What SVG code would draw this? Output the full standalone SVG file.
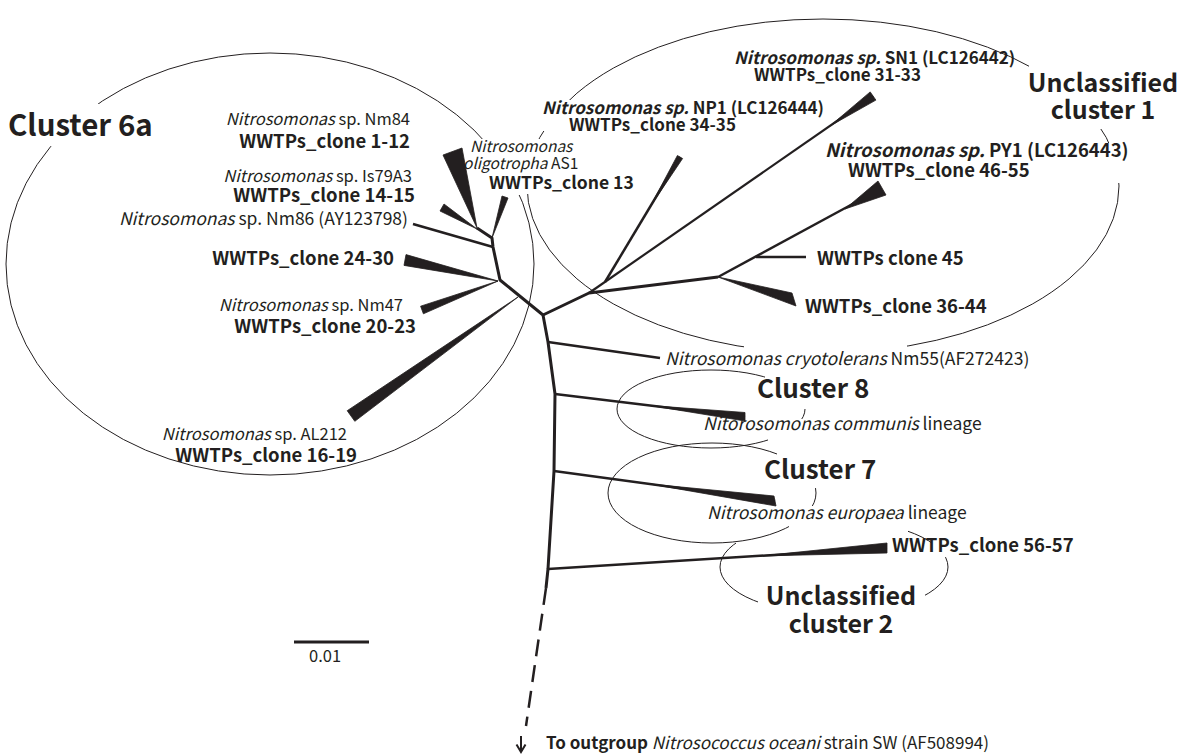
<svg xmlns="http://www.w3.org/2000/svg" width="1179" height="754" viewBox="0 0 1179 754">
  <style>
    .bg { fill: #ffffff; }
    .ring { fill: none; stroke: #231f20; stroke-width: 1; }
    .br { fill: none; stroke: #231f20; stroke-width: 3; stroke-linejoin: round; stroke-linecap: butt; }
    .leaf { fill: none; stroke: #231f20; stroke-width: 2.5; stroke-linecap: butt; }
    .wedge { fill: #231f20; stroke: #231f20; stroke-width: 0.8; stroke-linejoin: round; }
    .dash { fill: none; stroke: #231f20; stroke-width: 2.5; stroke-dasharray: 17 9; }
    .t { font-family: "Noto Sans CJK JP", "Noto Sans", sans-serif; fill: #231f20; }
    .s16 { font-size: 16.5px; }
    .s17 { font-size: 17px; }
    .s175 { font-size: 17.5px; }
    .s187 { font-size: 18.5px; }
    .b { font-weight: bold; }
    .i { font-style: italic; }
    .big { font-family: "Noto Sans CJK JP", "Noto Sans", sans-serif; font-weight: bold; font-size: 26px; fill: #231f20; }
    .unc { font-size: 25px; }
  </style>
  <defs>
    <!-- gaps in the cluster outlines where labels sit -->
    <mask id="gap6a" maskUnits="userSpaceOnUse" x="0" y="0" width="1179" height="754">
      <rect width="1179" height="754" fill="#fff"/>
      <rect x="40" y="104" width="64" height="42" fill="#000"/>
      <rect x="478" y="139" width="55" height="56" fill="#000"/>
    </mask>
    <mask id="gapU1" maskUnits="userSpaceOnUse" x="0" y="0" width="1179" height="754">
      <rect width="1179" height="754" fill="#fff"/>
      <rect x="515" y="100" width="63" height="31" fill="#000"/>
      <rect x="510" y="139" width="35" height="55" fill="#000"/>
      <rect x="744" y="330" width="163" height="40" fill="#000"/>
      <rect x="1029" y="30" width="111" height="99" fill="#000"/>
      <rect x="1095" y="143" width="45" height="40" fill="#000"/>
    </mask>
    <mask id="gapC8" maskUnits="userSpaceOnUse" x="0" y="0" width="1179" height="754">
      <rect width="1179" height="754" fill="#fff"/>
      <rect x="765" y="355" width="45" height="54" fill="#000"/>
      <rect x="768" y="419" width="42" height="40" fill="#000"/>
    </mask>
    <mask id="gapC7" maskUnits="userSpaceOnUse" x="0" y="0" width="1179" height="754">
      <rect width="1179" height="754" fill="#fff"/>
      <rect x="777" y="430" width="53" height="58" fill="#000"/>
      <rect x="789" y="506" width="41" height="54" fill="#000"/>
    </mask>
    <mask id="gapU2" maskUnits="userSpaceOnUse" x="0" y="0" width="1179" height="754">
      <rect width="1179" height="754" fill="#fff"/>
      <rect x="736" y="500" width="172" height="52" fill="#000"/>
      <rect x="931" y="500" width="39" height="57" fill="#000"/>
      <rect x="758" y="585" width="167" height="45" fill="#000"/>
    </mask>
  </defs>

  <rect class="bg" width="1179" height="754"/>

  <!-- cluster outlines -->
  <g id="outlines">
    <ellipse id="ring-6a" class="ring" cx="270" cy="264" rx="264" ry="211" mask="url(#gap6a)"/>
    <ellipse id="ring-u1" class="ring" cx="823" cy="186" rx="296" ry="167" mask="url(#gapU1)"/>
    <ellipse id="ring-c8" class="ring" cx="711" cy="409" rx="94" ry="39" mask="url(#gapC8)"/>
    <ellipse id="ring-c7" class="ring" cx="712" cy="493" rx="104" ry="50" mask="url(#gapC7)"/>
    <ellipse id="ring-u2" class="ring" cx="834" cy="567" rx="114" ry="47" mask="url(#gapU2)"/>
  </g>

  <!-- tree branches -->
  <g id="connectors">
    <!-- backbone -->
    <polyline class="br" points="477,228 492,238 493,247 500,280 543,315 548,342 555,394 554,471 548,569 546,588"/>
    <line class="dash" x1="546" y1="588" x2="526" y2="726"/>
    <!-- cluster 6a -->
    <line class="leaf" x1="413" y1="224" x2="493" y2="247"/>
    <polygon class="wedge" points="477,228 443,155 462,148"/>
    <polygon class="wedge" points="477,229 440,211 444,204"/>
    <polygon class="wedge" points="492,238 502,196 508,198"/>
    <polygon class="wedge" points="498,281 406,254.6 404,265.4"/>
    <polygon class="wedge" points="498,281 420.6,306.2 423.4,313.8"/>
    <polygon class="wedge" points="518,297 354.8,421.3 347.2,410.7"/>
    <!-- unclassified cluster 1 -->
    <polyline class="br" points="543,315 589,293 718,277"/>
    <line class="leaf" x1="589" y1="293" x2="873" y2="96" style="stroke-width:2.2"/>
    <polygon class="wedge" points="830,126 870.2,91.9 875.9,100.1"/>
    <line class="leaf" x1="605" y1="282" x2="680" y2="157"/>
    <polygon class="wedge" points="650,207 677.4,155.5 682.6,158.5"/>
    <line class="leaf" x1="718" y1="277" x2="860" y2="200"/>
    <polygon class="wedge" points="845,209 878,181 886,195"/>
    <line class="leaf" x1="756" y1="257" x2="806" y2="257"/>
    <polygon class="wedge" points="718,277 792,293 796,306"/>
    <!-- cryotolerans, clusters 8, 7 and unclassified cluster 2 -->
    <line class="leaf" x1="548" y1="342" x2="660" y2="358"/>
    <line class="leaf" x1="555" y1="394" x2="745" y2="417"/>
    <polygon class="wedge" points="650,405.5 745,412.5 745,421"/>
    <line class="leaf" x1="554" y1="471" x2="775" y2="501"/>
    <polygon class="wedge" points="650,484 774,496 776,506"/>
    <line class="leaf" x1="548" y1="569" x2="887" y2="548"/>
    <polygon class="wedge" points="760,556 887,543 887,553"/>
    <!-- outgroup arrow -->
    <line class="leaf" x1="521" y1="736" x2="521" y2="751" style="stroke-width:2"/>
    <polyline class="leaf" points="516.5,744.5 521,752 525.5,744.5" style="stroke-width:2"/>
    <!-- scale bar -->
    <line class="br" x1="294" y1="642" x2="369" y2="642"/>
  </g>

  <!-- cluster 6a labels -->
  <g id="cluster-6a">
    <text class="t b" x="8" y="136" style="font-size:29.5px">Cluster 6a</text>
    <text class="t s16" x="410" y="125" text-anchor="end"><tspan class="i">Nitrosomonas</tspan> sp. Nm84</text>
    <text class="t s187 b" x="410" y="148" text-anchor="end">WWTPs_clone 1-12</text>
    <text class="t s16" x="412" y="182" text-anchor="end"><tspan class="i">Nitrosomonas</tspan> sp. Is79A3</text>
    <text class="t s187 b" x="415" y="202" text-anchor="end">WWTPs_clone 14-15</text>
    <text class="t" x="408" y="225" text-anchor="end" style="font-size:17.5px"><tspan class="i">Nitrosomonas</tspan> sp. Nm86 (AY123798)</text>
    <text class="t s187 b" x="394" y="265" text-anchor="end">WWTPs_clone 24-30</text>
    <text class="t s16" x="403" y="311" text-anchor="end"><tspan class="i">Nitrosomonas</tspan> sp. Nm47</text>
    <text class="t s187 b" x="416" y="333" text-anchor="end">WWTPs_clone 20-23</text>
    <text class="t s16" x="347" y="440" text-anchor="end"><tspan class="i">Nitrosomonas</tspan> sp. AL212</text>
    <text class="t s187 b" x="357" y="462" text-anchor="end">WWTPs_clone 16-19</text>
  </g>

  <g id="oligotropha">
    <text class="t i" x="470" y="152" style="font-size:15.5px">Nitrosomonas</text>
    <text class="t" x="463" y="169" style="font-size:15.5px"><tspan class="i">oligotropha</tspan> AS1</text>
    <text class="t b" x="489" y="189" style="font-size:17.5px">WWTPs_clone 13</text>
  </g>

  <!-- unclassified cluster 1 labels -->
  <g id="unclassified-1">
    <text class="t s17 b" x="734" y="64"><tspan class="i">Nitrosomonas sp.</tspan> SN1 (LC126442)</text>
    <text class="t s17 b" x="754" y="81">WWTPs_clone 31-33</text>
    <text class="big unc" x="1103" y="92" text-anchor="middle">Unclassified</text>
    <text class="big unc" x="1103" y="119" text-anchor="middle">cluster 1</text>
    <text class="t s17 b" x="542" y="114"><tspan class="i">Nitrosomonas sp.</tspan> NP1 (LC126444)</text>
    <text class="t s17 b" x="569" y="131">WWTPs_clone 34-35</text>
    <text class="t s187 b" x="825" y="157"><tspan class="i">Nitrosomonas sp.</tspan> PY1 (LC126443)</text>
    <text class="t s187 b" x="848" y="177">WWTPs_clone 46-55</text>
    <text class="t s187 b" x="817" y="265">WWTPs clone 45</text>
    <text class="t s187 b" x="805" y="313">WWTPs_clone 36-44</text>
  </g>

  <g id="cryotolerans">
    <text class="t s175" x="665" y="365"><tspan class="i">Nitrosomonas cryotolerans</tspan> Nm55(AF272423)</text>
  </g>

  <g id="cluster-8">
    <text class="big" x="757" y="398">Cluster 8</text>
    <text class="t s175" x="703" y="430"><tspan class="i">Nitorosomonas communis</tspan> lineage</text>
  </g>

  <g id="cluster-7">
    <text class="big" x="764" y="479">Cluster 7</text>
    <text class="t s175" x="707" y="519"><tspan class="i">Nitrosomonas europaea</tspan> lineage</text>
  </g>

  <g id="unclassified-2">
    <text class="t s187 b" x="892" y="552">WWTPs_clone 56-57</text>
    <text class="big unc" x="841" y="605" text-anchor="middle">Unclassified</text>
    <text class="big unc" x="841" y="633" text-anchor="middle">cluster 2</text>
  </g>

  <g id="scale">
    <text class="t s16" x="309" y="662">0.01</text>
  </g>

  <g id="outgroup">
    <text class="t s17" x="546" y="749"><tspan class="b">To outgroup</tspan> <tspan class="i">Nitrosococcus oceani</tspan> strain SW (AF508994)</text>
  </g>
</svg>
